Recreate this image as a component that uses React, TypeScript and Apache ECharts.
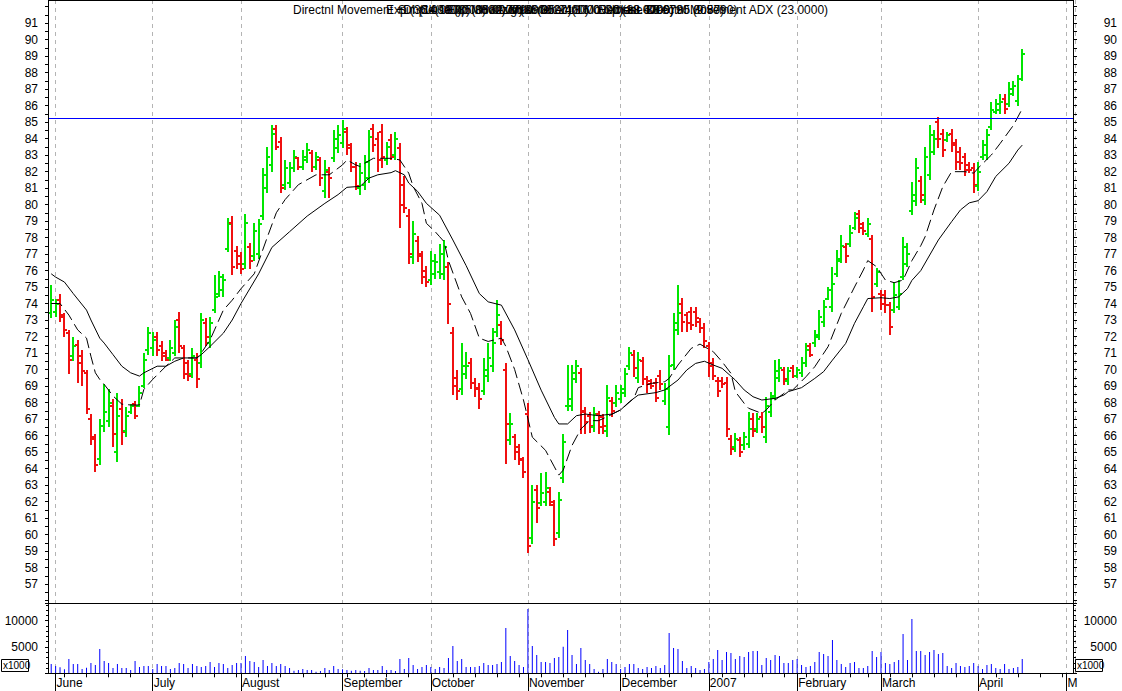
import React, { useEffect, useRef } from "react";
import * as echarts from "echarts";

// ---------- data ----------
const HIGH = [
  75.1, 74.3, 74.6, 73.4, 72.4, 72.0, 71.8, 71.2, 70.0, 67.3,
  66.1, 67.0, 69.1, 68.8, 68.2, 68.6, 68.2, 67.7, 67.9, 68.1,
  69.0, 71.0, 72.6, 72.3, 72.3, 71.7, 71.2, 71.8, 73.0, 73.5,
  71.5, 70.6, 71.3, 71.0, 73.4, 73.1, 73.2, 75.7, 76.0, 75.8,
  79.2, 79.3, 77.5, 77.1, 79.4, 77.65, 78.86, 79.1, 82.2, 83.5,
  84.8, 84.8, 84.1, 82.7, 82.6, 83.3, 82.9, 83.3, 83.7, 83.3,
  83.2, 82.9, 82.7, 82.3, 84.5, 84.8, 85.1, 84.7, 83.7, 82.6,
  82.5, 83.0, 84.5, 84.9, 84.4, 84.9, 83.8, 84.3, 84.4, 83.7,
  81.7, 79.7, 79.0, 78.1, 77.2, 76.3, 77.2, 77.0, 77.6, 77.85,
  76.5, 72.6, 69.97, 71.6, 71.08, 70.7, 69.46, 69.16, 70.7, 71.6,
  72.5, 74.2, 72.96, 70.4, 67.34, 66.1, 65.5, 64.7, 67.95, 63.0,
  63.0, 63.7, 63.8, 62.9, 62.1, 62.6, 66.1, 70.3, 70.3, 70.6,
  70.07, 67.7, 67.44, 67.75, 67.5, 67.3, 69.06, 68.35, 69.06, 69.06,
  70.07, 71.38, 71.18, 71.08, 70.78, 69.6, 69.4, 69.47, 69.97, 69.16,
  70.88, 73.4, 75.12, 74.31, 73.5, 73.81, 73.81, 73.1, 72.8, 71.69,
  70.68, 69.57, 69.57, 69.57, 66.03, 66.13, 65.93, 66.23, 67.44, 67.34,
  67.34, 67.44, 68.35, 68.66, 70.57, 70.62, 70.17, 70.17, 70.27, 70.17,
  70.78, 71.58, 71.58, 72.39, 73.6, 74.21, 75.0, 76.23, 77.24, 78.15,
  77.65, 78.76, 79.56, 79.67, 78.96, 79.16, 78.15, 76.13, 74.82, 74.82,
  74.11, 75.32, 75.42, 78.05, 77.65, 81.38, 82.8, 81.7, 83.5, 84.82,
  84.5, 85.32, 84.6, 84.4, 84.6, 84.0, 83.5, 83.1, 82.6, 82.5,
  82.6, 83.9, 84.6, 86.2, 86.4, 86.7, 86.7, 87.4, 87.5, 87.85,
  89.4,
];
const LOW = [
  73.1, 73.2, 72.9, 72.0, 69.7, 70.5, 69.2, 69.0, 67.3, 65.4,
  63.8, 64.2, 66.2, 66.5, 65.3, 64.4, 65.4, 65.9, 67.3, 67.0,
  67.7, 68.9, 70.9, 70.8, 70.8, 70.5, 70.5, 70.5, 70.8, 71.0,
  69.4, 69.3, 69.5, 68.9, 70.1, 71.4, 71.3, 73.4, 74.4, 74.4,
  77.1, 75.7, 76.1, 75.8, 76.1, 76.1, 76.6, 76.7, 79.06, 80.7,
  82.0, 83.3, 80.7, 80.9, 81.0, 82.0, 82.1, 82.1, 82.5, 82.0,
  82.1, 81.1, 80.4, 80.4, 82.6, 83.1, 83.4, 83.0, 82.0, 80.9,
  80.6, 80.9, 81.3, 83.2, 82.0, 82.2, 82.4, 82.7, 82.7, 78.6,
  79.5, 76.4, 76.4, 76.5, 75.2, 75.0, 75.1, 75.5, 75.5, 75.4,
  72.76, 68.45, 68.15, 68.45, 69.4, 68.8, 68.35, 67.6, 68.45, 69.26,
  69.87, 72.0, 71.5, 64.3, 65.4, 64.5, 64.2, 63.4, 58.86, 59.4,
  60.7, 61.7, 61.7, 61.7, 59.3, 59.8, 63.1, 67.5, 67.5, 69.2,
  66.1, 66.1, 66.13, 66.23, 66.1, 66.1, 65.93, 67.14, 67.75, 67.95,
  68.35, 69.97, 69.57, 69.16, 69.06, 68.6, 68.8, 68.05, 68.76, 67.85,
  66.03, 69.97, 72.1, 72.29, 72.29, 72.39, 72.6, 72.19, 71.28, 69.57,
  69.36, 68.35, 68.86, 65.93, 64.82, 65.02, 64.72, 65.12, 65.22, 65.93,
  66.13, 66.13, 65.52, 67.14, 68.15, 69.26, 69.06, 69.06, 69.46, 69.46,
  69.56, 70.17, 70.78, 71.38, 71.78, 72.6, 74.2, 73.5, 75.6, 76.43,
  76.43, 77.44, 78.45, 78.25, 78.15, 78.05, 73.5, 75.02, 73.6, 73.4,
  72.09, 73.4, 73.6, 75.42, 76.23, 79.36, 79.9, 80.07, 79.97, 81.5,
  83.0, 83.4, 82.9, 83.8, 83.2, 82.1, 82.1, 81.7, 81.9, 80.7,
  80.8, 82.7, 82.7, 84.5, 85.5, 85.5, 85.5, 85.9, 86.6, 86.0,
  87.5,
];
const OPEN = [
  73.4, 73.5, 74.2, 73.2, 72.2, 70.8, 71.5, 70.8, 69.8, 67.0,
  65.8, 64.6, 66.6, 66.9, 67.8, 65.0, 67.6, 66.3, 67.4, 67.9,
  67.8, 69.0, 71.2, 71.3, 72.0, 71.4, 71.0, 70.7, 71.0, 73.0,
  71.3, 70.4, 69.7, 70.6, 70.4, 72.8, 71.6, 73.6, 74.6, 74.8,
  77.3, 78.9, 77.2, 76.9, 76.4, 77.4, 76.9, 77.0, 79.3, 81.0,
  82.4, 84.6, 83.8, 81.2, 81.3, 82.2, 82.8, 82.3, 82.7, 83.1,
  82.3, 82.7, 80.8, 82.0, 82.8, 83.4, 83.7, 84.4, 83.4, 82.3,
  81.0, 81.2, 81.6, 84.6, 84.0, 84.4, 82.7, 83.9, 83.0, 83.4,
  81.2, 79.3, 76.8, 77.8, 77.0, 76.0, 75.4, 75.8, 75.9, 75.8,
  76.2, 72.2, 69.5, 68.8, 69.7, 70.4, 69.2, 68.9, 68.7, 69.6,
  70.2, 72.3, 72.7, 70.0, 65.7, 65.9, 65.3, 64.5, 67.3, 59.8,
  62.7, 61.9, 62.0, 62.6, 61.8, 60.1, 63.4, 67.8, 67.8, 69.4,
  69.8, 67.4, 67.2, 66.5, 67.3, 67.1, 66.3, 68.1, 68.0, 68.2,
  68.6, 70.2, 70.9, 69.5, 70.5, 69.4, 69.3, 69.2, 69.6, 68.1,
  66.5, 70.3, 72.4, 74.0, 73.3, 73.5, 73.5, 72.9, 72.5, 71.4,
  70.4, 69.3, 69.3, 69.2, 65.8, 65.3, 65.7, 65.4, 65.5, 67.0,
  66.4, 67.1, 65.9, 67.4, 68.4, 69.5, 70.0, 69.3, 70.1, 69.6,
  69.8, 70.4, 71.4, 71.6, 72.0, 72.9, 74.3, 73.8, 75.8, 76.6,
  77.4, 77.6, 78.6, 79.4, 78.8, 78.2, 77.9, 75.2, 74.6, 74.5,
  73.9, 73.6, 73.8, 75.6, 76.4, 79.6, 80.2, 81.4, 80.3, 81.8,
  83.2, 85.0, 84.3, 83.9, 84.3, 83.7, 83.2, 82.9, 82.4, 82.2,
  81.1, 82.9, 83.0, 84.7, 85.6, 85.7, 86.4, 86.1, 86.7, 86.3,
  87.6,
];
const CLOSE = [
  74.2, 74.0, 73.3, 72.4, 70.6, 71.4, 70.4, 69.9, 67.6, 65.9,
  64.2, 66.6, 67.4, 68.0, 66.1, 67.2, 66.2, 67.2, 67.8, 67.2,
  68.6, 70.6, 72.2, 71.8, 71.2, 70.8, 70.6, 71.3, 72.6, 71.4,
  69.7, 69.6, 70.8, 69.4, 73.0, 72.0, 72.8, 74.4, 75.6, 75.4,
  78.8, 76.2, 76.4, 76.1, 78.9, 76.6, 78.4, 78.8, 81.8, 82.9,
  84.3, 83.5, 81.0, 82.2, 82.2, 82.9, 82.3, 82.9, 83.3, 82.3,
  82.9, 81.6, 82.1, 81.6, 84.0, 84.2, 84.6, 83.6, 82.3, 81.1,
  81.9, 82.6, 84.1, 83.6, 82.7, 82.9, 83.5, 82.9, 84.0, 80.0,
  79.8, 77.0, 78.2, 76.9, 75.6, 75.3, 76.6, 76.5, 77.0, 77.4,
  74.0, 69.0, 68.7, 70.2, 70.2, 69.2, 68.8, 68.2, 70.0, 70.7,
  71.6, 73.3, 71.8, 66.7, 66.7, 65.0, 64.6, 63.8, 59.3, 62.0,
  61.6, 62.5, 62.8, 62.0, 59.7, 62.1, 65.6, 68.2, 69.8, 70.2,
  67.5, 66.8, 66.6, 67.3, 66.5, 66.6, 68.3, 67.5, 68.6, 68.8,
  69.7, 71.0, 70.1, 70.6, 69.4, 69.1, 69.0, 68.3, 69.1, 68.8,
  70.2, 72.8, 73.4, 72.9, 72.8, 72.7, 73.1, 72.5, 71.7, 70.2,
  69.6, 68.7, 69.1, 66.4, 65.2, 65.8, 65.0, 65.9, 66.4, 66.3,
  67.0, 66.5, 67.8, 68.3, 69.9, 70.1, 69.4, 69.9, 69.6, 70.0,
  70.4, 71.2, 70.9, 72.1, 73.2, 73.8, 74.8, 75.2, 76.7, 77.5,
  76.9, 78.3, 79.2, 78.6, 78.4, 78.8, 74.4, 75.9, 74.0, 73.9,
  72.6, 74.5, 74.6, 77.4, 77.0, 80.6, 82.2, 80.6, 82.9, 84.2,
  84.0, 84.0, 83.3, 84.2, 83.6, 82.6, 82.5, 82.1, 82.1, 81.2,
  82.0, 83.6, 84.2, 85.7, 86.1, 86.2, 85.8, 87.0, 87.2, 87.6,
  89.1,
];
const VOLUME = [
  1768, 1388, 1135, 755, 2718, 1768, 1768, 818, 1071, 1958,
  1578, 4620, 2338, 1958, 1008, 1768, 1008, 1008, 628, 2338,
  1198, 1388, 1388, 818, 1768, 1388, 1388, 818, 1008, 1958,
  1768, 1008, 1768, 1388, 1198, 1388, 2148, 1198, 1958, 1768,
  1008, 1578, 1958, 1958, 3288, 2338, 2148, 1198, 2528, 1388,
  1958, 1388, 1768, 1388, 1008, 501, 628, 818, 628, 628,
  311, 438, 1008, 628, 1388, 818, 755, 628, 501, 628,
  501, 438, 1008, 628, 628, 1388, 628, 628, 438, 2718,
  818, 2908, 1578, 818, 1198, 1578, 1198, 818, 1198, 1008,
  2908, 5190, 2338, 2718, 1198, 1198, 1198, 1388, 1958, 1578,
  1578, 1768, 2148, 8612, 3288, 2338, 1578, 1198, 12223, 5190,
  3478, 2148, 2148, 1958, 2908, 3098, 5063, 8232, 3478, 1768,
  4810, 2528, 1768, 818, 300, 818, 2718, 2148, 1768, 818,
  1198, 1768, 1768, 1008, 818, 1198, 1008, 1388, 1008, 1578,
  7662, 4810, 4620, 2338, 1008, 1388, 1008, 628, 818, 2148,
  2718, 4430, 2528, 4050, 3860, 2718, 3288, 3098, 4050, 4240,
  4240, 1578, 2908, 2528, 3478, 3288, 1958, 1958, 2528, 2718,
  1578, 1198, 1388, 2148, 4050, 3668, 3288, 6330, 2528, 1768,
  1198, 1958, 2148, 1008, 1008, 1388, 4240, 3098, 4050, 1958,
  1768, 2148, 2528, 7472, 2528, 10325, 4240, 4240, 3478, 4050,
  4430, 3668, 3860, 1388, 1008, 1958, 1388, 1198, 1388, 1958,
  1388, 818, 1578, 1768, 1008, 818, 1768, 818, 1008, 1198,
  2718,
];
// moving averages read at sample bars: [bar index, value]
const MA_SLOW: [number, number][] = [
  [0, 75.8], [1, 75.6], [3, 75.3], [5, 74.6], [8, 73.6], [9, 73.0], [11, 71.9], [12, 71.6], [14, 70.9],
  [16, 70.2], [18, 69.8], [20, 69.6], [21, 69.8], [24, 70.2], [26, 70.2], [28, 70.5], [30, 70.7], [33, 70.7],
  [34, 70.9], [36, 71.4], [39, 72.2], [41, 73.0], [43, 74.0], [47, 75.8], [50, 77.4], [54, 78.35], [58, 79.3],
  [62, 80.07], [65, 80.6], [67, 81.04], [70, 81.1], [72, 81.6], [74, 81.8], [77, 81.93], [78, 82.05], [80, 81.8],
  [81, 81.3], [83, 80.8], [85, 80.07], [88, 79.35], [91, 77.85], [94, 76.3], [97, 74.6], [99, 74.1], [102, 73.9],
  [105, 72.4], [108, 70.6], [111, 68.75], [114, 67.1], [115, 66.7], [117, 66.7], [119, 67.2], [121, 67.3],
  [124, 67.2], [127, 67.3], [129, 67.55], [131, 68.05], [133, 68.45], [137, 68.6], [139, 68.76], [142, 69.36],
  [144, 69.97], [146, 70.37], [148, 70.5], [150, 70.27], [152, 70.07], [155, 69.36], [157, 68.76], [159, 68.35],
  [161, 68.15], [164, 68.25], [166, 68.45], [167, 68.66], [170, 68.9], [173, 69.46], [175, 69.87], [177, 70.57],
  [180, 71.58], [182, 72.8], [184, 73.8], [185, 74.3], [188, 74.35], [190, 74.3], [192, 74.4], [194, 74.9],
  [195, 75.4], [197, 75.99], [201, 77.85], [204, 78.96], [206, 79.67], [208, 80.1], [210, 80.23], [212, 80.78],
  [214, 81.7], [217, 82.5], [219, 83.3], [220, 83.6],
];
const MA_FAST: [number, number][] = [
  [0, 74.0], [2, 74.0], [4, 73.3], [6, 72.4], [8, 71.9], [9, 70.8], [10, 69.8], [11, 69.4], [12, 69.1],
  [14, 68.4], [16, 67.9], [18, 67.85], [20, 67.85], [21, 68.8], [23, 69.4], [26, 70.2], [28, 70.7], [30, 70.7],
  [33, 70.7], [34, 71.0], [36, 71.8], [37, 72.4], [39, 73.6], [41, 74.2], [43, 74.9], [46, 75.8], [49, 78.05],
  [51, 79.5], [53, 80.3], [56, 81.2], [60, 81.8], [63, 81.8], [66, 82.4], [67, 82.7], [69, 82.4], [70, 82.3],
  [71, 82.5], [73, 82.8], [77, 82.8], [79, 82.7], [81, 81.9], [82, 81.1], [84, 80.07], [85, 78.86], [87, 78.35],
  [88, 78.05], [89, 77.75], [90, 76.6], [93, 74.4], [95, 73.4], [97, 71.9], [99, 71.7], [102, 71.9], [103, 71.4],
  [105, 70.0], [107, 68.15], [109, 65.9], [112, 65.1], [114, 64.1], [115, 63.6], [116, 63.9], [118, 65.4],
  [120, 66.4], [122, 66.9], [124, 66.9], [126, 67.14], [129, 67.55], [132, 68.25], [133, 68.9], [136, 69.16],
  [139, 69.26], [140, 69.46], [142, 70.27], [145, 71.28], [147, 71.54], [148, 71.38], [150, 71.08], [152, 70.47],
  [154, 69.77], [155, 68.66], [157, 67.95], [158, 67.65], [161, 67.34], [162, 67.55], [164, 68.15], [166, 68.55],
  [167, 68.76], [168, 68.76], [171, 69.56], [173, 70.17], [176, 71.38], [179, 73.4], [182, 75.0], [184, 76.03],
  [185, 76.6], [187, 76.23], [189, 75.42], [191, 75.26], [193, 75.42], [195, 76.6], [197, 77.5], [198, 78.05],
  [200, 79.67], [202, 81.08], [204, 81.99], [207, 81.99], [209, 81.9], [210, 82.2], [213, 83.0], [215, 83.7],
  [218, 84.8], [219, 85.3], [220, 85.8],
];
const RESISTANCE = 85.22;

// axis: trading-day slots from 31 May 2006 to 1 May 2007
const N_SLOTS = 232;
const CATEGORIES = Array.from({ length: N_SLOTS }, (_, i) => String(i));
const MONTH_INDEX = [1, 23, 43, 66, 86, 108, 129, 149, 169, 188, 210, 230];
const MONTH_LABELS = ["June", "July", "August", "September", "October", "November", "December", "2007", "February", "March", "April", "M"];
const WEEK_INDEX = [3, 8, 13, 18, 23, 27, 32, 37, 42, 47, 52, 57, 62, 67, 71, 76, 81, 86, 91, 96, 101, 106, 111, 116, 121, 125, 130, 135, 140, 145, 149, 152, 157, 161, 166, 171, 176, 181, 185, 190, 195, 200, 205, 210, 214, 219, 224, 229];

const UP = "#00e600";
const DOWN = "#f01010";
const FONT = '"Liberation Sans", Arial, sans-serif';

const OHLC = HIGH.map((h, i) => [i, OPEN[i], CLOSE[i], LOW[i], h]);
const MONTH_SET = new Set(MONTH_INDEX);
const WEEK_SET = new Set(WEEK_INDEX);

function renderOhlc(_params: any, api: any) {
  const i = api.value(0);
  const o = api.value(1);
  const c = api.value(2);
  const l = api.value(3);
  const h = api.value(4);
  const pt = api.coord([i, h]);
  const pb = api.coord([i, l]);
  const po = api.coord([i, o]);
  const pc = api.coord([i, c]);
  const x = Math.round(pt[0]);
  const color = c >= o ? UP : DOWN;
  return {
    type: "group",
    children: [
      { type: "rect", shape: { x: x - 1, y: Math.round(pt[1]), width: 2, height: Math.max(2, Math.round(pb[1]) - Math.round(pt[1])) }, style: { fill: color } },
      { type: "rect", shape: { x: x - 3, y: Math.round(po[1]) - 1, width: 2, height: 2 }, style: { fill: color } },
      { type: "rect", shape: { x: x + 1, y: Math.round(pc[1]) - 1, width: 2, height: 2 }, style: { fill: color } },
    ],
  };
}

const axisText = { color: "#000", fontSize: 12, fontFamily: FONT };

function priceAxis(pos: "left" | "right") {
  return {
    type: "value",
    gridIndex: 0,
    position: pos,
    min: 56,
    max: 92,
    interval: 1,
    axisLine: { show: false },
    axisTick: { show: true, length: 4, lineStyle: { color: "#000" } },
    minorTick: { show: true, splitNumber: 2, length: 4, lineStyle: { color: "#000" } },
    splitLine: { show: false },
    axisLabel: {
      ...axisText,
      showMinLabel: false,
      showMaxLabel: false,
      margin: pos === "left" ? 11 : 44,
      align: "right",
      formatter: (v: number) => String(v),
    },
  };
}
function volAxis(pos: "left" | "right") {
  return {
    type: "value",
    gridIndex: 1,
    position: pos,
    min: 0,
    max: 13300,
    interval: 5000,
    axisLine: { show: false },
    axisTick: { show: true, length: 4, lineStyle: { color: "#000" } },
    minorTick: { show: true, splitNumber: 5, length: 3, lineStyle: { color: "#000" } },
    splitLine: { show: false },
    axisLabel: {
      ...axisText,
      showMinLabel: false,
      showMaxLabel: false,
      margin: pos === "left" ? 11 : 44,
      align: "right",
      formatter: (v: number) => String(v),
    },
  };
}

// overlapping legend strings of the original header
const TITLE_TEXTS: [string, number][] = [
  ["Directnl Movement +DI (14.0000)", 293],
  ["Exp (36.0000),  (36.0000)", 386],
  ["Simple(18.0000) 82.7790", 398],
  ["Close (85.8000) 86.0900", 420],
  ["Exp Mov Avg (36.0000)", 447],
  ["Horizontal (85.2400)", 480],
  ["Volume 2718000 Close", 510],
  ["Directnl Movement -DI", 540],
  ["(16.0000) 88.6790)", 572],
  ["Exp (18.0000) 85.8050)", 598],
  ["Close 88.6790 (9.8790)", 612],
  ["Directnl Movement ADX (23.0000)", 646],
];

export default function App() {
  const ref = useRef<HTMLDivElement>(null);
  useEffect(() => {
    if (!ref.current) return;
    const chart = echarts.init(ref.current, undefined, { renderer: "svg" });
    const option: any = {
      animation: false,
      backgroundColor: "#ffffff",
      grid: [
        { left: 49, width: 1024, top: 6.5, height: 594 },
        { left: 49, width: 1024, top: 603.3, height: 70 },
        { left: 51.207, width: 1024, top: 0, height: 673.3 },
      ],
      xAxis: [
        { type: "category", gridIndex: 0, data: CATEGORIES, boundaryGap: true, show: false },
        {
          type: "category", gridIndex: 1, data: CATEGORIES, boundaryGap: true, position: "bottom",
          axisLine: { show: false },
          axisTick: { show: true, alignWithLabel: true, interval: (i: number) => WEEK_SET.has(i), length: 4, lineStyle: { color: "#000" } },
          axisLabel: { show: false },
          splitLine: { show: false },
        },
        {
          type: "category", gridIndex: 1, data: CATEGORIES, boundaryGap: true, position: "bottom",
          axisLine: { show: false },
          axisTick: { show: true, alignWithLabel: true, interval: (i: number) => MONTH_SET.has(i), length: 18, lineStyle: { color: "#000" } },
          axisLabel: {
            ...axisText,
            interval: (i: number) => MONTH_SET.has(i),
            formatter: (v: string) => {
              const k = MONTH_INDEX.indexOf(Number(v));
              return k >= 0 ? MONTH_LABELS[k] : "";
            },
            align: "left",
            margin: 4,
            padding: [0, 0, 0, 1],
          },
          splitLine: { show: false },
        },
        {
          type: "category", gridIndex: 2, data: CATEGORIES, boundaryGap: true,
          axisLine: { show: false }, axisTick: { show: false }, axisLabel: { show: false },
          splitLine: { show: true, interval: (i: number) => MONTH_SET.has(i), lineStyle: { color: "#b4b4b4", width: 1, type: [4, 4] } },
        },
      ],
      yAxis: [
        priceAxis("left"),
        priceAxis("right"),
        volAxis("left"),
        volAxis("right"),
        { type: "value", gridIndex: 2, show: false, min: 0, max: 1 },
      ],
      series: [
        {
          type: "custom",
          xAxisIndex: 0,
          yAxisIndex: 0,
          data: OHLC,
          encode: { x: 0, y: [1, 2, 3, 4] },
          renderItem: renderOhlc,
          z: 3,
        },
        {
          type: "line",
          xAxisIndex: 0,
          yAxisIndex: 0,
          data: MA_SLOW,
          symbol: "none",
          showSymbol: false,
          lineStyle: { color: "#000", width: 1 },
          z: 4,
          markLine: {
            silent: true,
            symbol: ["none", "none"],
            label: { show: false },
            lineStyle: { color: "#0000ff", width: 1, type: "solid" },
            data: [{ yAxis: RESISTANCE }],
          },
        },
        {
          type: "line",
          xAxisIndex: 0,
          yAxisIndex: 0,
          data: MA_FAST,
          symbol: "none",
          showSymbol: false,
          lineStyle: { color: "#000", width: 1, type: [12, 5] },
          z: 4,
        },
        {
          type: "bar",
          xAxisIndex: 1,
          yAxisIndex: 2,
          data: VOLUME,
          barWidth: 1,
          itemStyle: { color: "#0000ff" },
        },
      ],
      graphic: [
        { type: "line", shape: { x1: 48.5, y1: 0, x2: 48.5, y2: 674 }, style: { stroke: "#000", lineWidth: 1 }, z: 10 },
        { type: "line", shape: { x1: 1073.5, y1: 0, x2: 1073.5, y2: 674 }, style: { stroke: "#000", lineWidth: 1 }, z: 10 },
        { type: "line", shape: { x1: 48, y1: 0.5, x2: 1074, y2: 0.5 }, style: { stroke: "#000", lineWidth: 1 }, z: 10 },
        { type: "line", shape: { x1: 48, y1: 603.5, x2: 1074, y2: 603.5 }, style: { stroke: "#000", lineWidth: 1 }, z: 10 },
        { type: "line", shape: { x1: 48, y1: 673.5, x2: 1075, y2: 673.5 }, style: { stroke: "#000", lineWidth: 1 }, z: 10 },
        ...TITLE_TEXTS.map(([t, x]) => ({
          type: "text",
          x,
          y: 4,
          style: { text: t, font: `12px ${FONT}`, fill: "#000", verticalAlign: "top" },
          z: 10,
        })),
        { type: "rect", shape: { x: 1.5, y: 659.5, width: 27, height: 12 }, style: { fill: "#fff", stroke: "#000", lineWidth: 1 }, z: 10 },
        { type: "text", x: 3, y: 660.5, style: { text: "x1000", font: `10px ${FONT}`, fill: "#000", verticalAlign: "top" }, z: 11 },
        { type: "rect", shape: { x: 1075.5, y: 659.5, width: 27, height: 12 }, style: { fill: "#fff", stroke: "#000", lineWidth: 1 }, z: 10 },
        { type: "text", x: 1077, y: 660.5, style: { text: "x1000", font: `10px ${FONT}`, fill: "#000", verticalAlign: "top" }, z: 11 },
      ],
    };
    chart.setOption(option);
    return () => chart.dispose();
  }, []);
  return (
    <div
      ref={ref}
      style={{ position: "fixed", left: 0, top: 0, width: 1122, height: 691, background: "#fff" }}
    />
  );
}
